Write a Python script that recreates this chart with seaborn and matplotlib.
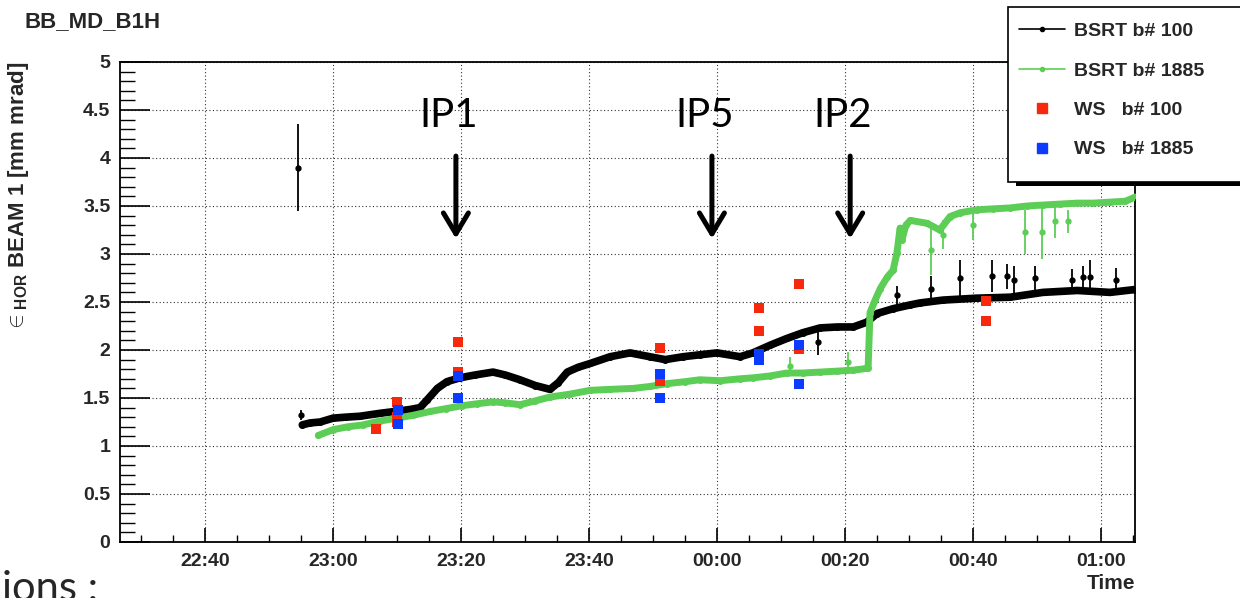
import numpy as np
import pandas as pd
import matplotlib
matplotlib.use("Agg")
import matplotlib.pyplot as plt
import matplotlib.dates as mdates
from matplotlib.lines import Line2D
from matplotlib.patches import Rectangle
import seaborn as sns

# ---------------- data (minutes after 22:00) ----------------
BASE = "2011-06-28 22:00"

bsrt100_t = [55.2, 56.4, 58.0, 60.0, 61.9, 64.2, 67.3, 69.7, 72.0, 73.6, 74.7, 76.3, 77.8,
             79.8, 82.2, 85.0, 86.9, 89.2, 91.6, 93.9, 95.2, 96.6, 98.3, 100.2, 103.3,
             106.4, 109.5, 111.9, 114.7, 117.3, 120.0, 123.6, 125.6, 128.3, 130.9, 133.4,
             136.1, 138.8, 141.3, 143.4, 145.0, 147.5, 150.2, 151.7, 155.3, 160.6, 165.8,
             170.9, 176.3, 181.4, 185.3]
bsrt100_v = [1.22, 1.24, 1.25, 1.29, 1.30, 1.31, 1.34, 1.36, 1.38, 1.40, 1.48, 1.60, 1.67,
             1.71, 1.74, 1.77, 1.74, 1.69, 1.63, 1.59, 1.66, 1.77, 1.82, 1.86, 1.93,
             1.97, 1.93, 1.90, 1.93, 1.95, 1.97, 1.93, 1.97, 2.05, 2.12, 2.18,
             2.23, 2.24, 2.24, 2.29, 2.38, 2.43, 2.47, 2.49, 2.52, 2.54, 2.55,
             2.60, 2.62, 2.60, 2.63]

bsrt1885_t = [57.7, 60.0, 62.3, 64.7, 67.3, 70.0, 72.5, 75.2, 77.7, 80.2, 82.5, 85.0, 86.9,
              89.2, 91.6, 93.9, 97.0, 100.2, 103.3, 106.9, 109.5, 112.2, 115.0, 117.3,
              120.5, 123.6, 125.6, 128.3, 130.9, 133.4, 136.1, 138.8, 141.3, 143.6,
              143.9, 144.7, 145.5, 146.6, 147.5, 148.1, 148.6, 148.9, 149.5, 150.2, 152.8,
              154.8, 156.4, 158.0, 160.6, 163.1, 165.8, 168.4, 170.9, 173.6, 176.3,
              178.8, 181.4, 183.8, 185.6]
bsrt1885_v = [1.11, 1.17, 1.20, 1.22, 1.26, 1.29, 1.32, 1.36, 1.39, 1.42, 1.44, 1.46, 1.45,
              1.43, 1.47, 1.51, 1.54, 1.58, 1.59, 1.60, 1.62, 1.65, 1.67, 1.69,
              1.68, 1.70, 1.71, 1.73, 1.76, 1.76, 1.77, 1.78, 1.79, 1.81,
              2.39, 2.52, 2.64, 2.76, 2.83, 3.01, 3.27, 3.15, 3.30, 3.35, 3.32,
              3.25, 3.39, 3.43, 3.46, 3.47, 3.48, 3.50, 3.51, 3.52, 3.53,
              3.53, 3.54, 3.55, 3.60]

# points drawn with visible error bars
err100_t = [54.5, 54.95, 135.8, 148.1, 153.4, 158.0, 162.9, 165.3, 166.4, 169.7, 175.4, 177.2, 178.2, 182.3]
err100_v = [3.90, 1.32, 2.08, 2.57, 2.64, 2.75, 2.77, 2.77, 2.73, 2.75, 2.73, 2.76, 2.76, 2.73]
err100_e = [0.45, 0.05, 0.13, 0.10, 0.13, 0.19, 0.17, 0.13, 0.14, 0.13, 0.11, 0.12, 0.18, 0.12]

err1885_t = [131.4, 140.5, 153.4, 155.3, 160.0, 168.1, 170.7, 172.8, 174.9]
err1885_v = [1.83, 1.88, 3.04, 3.20, 3.30, 3.23, 3.23, 3.34, 3.34]
err1885_e = [0.10, 0.10, 0.26, 0.15, 0.15, 0.23, 0.28, 0.17, 0.12]

ws100_t = [66.7, 70.0, 70.0, 70.0, 79.6, 79.6, 111.1, 111.1, 126.6, 126.6, 132.8, 132.8, 162.0, 162.0]
ws100_v = [1.18, 1.46, 1.30, 1.25, 2.08, 1.77, 2.02, 1.68, 2.44, 2.20, 2.69, 2.01, 2.51, 2.30]
ws1885_t = [70.2, 70.2, 79.6, 79.6, 111.1, 111.1, 126.6, 126.6, 132.8, 132.8]
ws1885_v = [1.38, 1.23, 1.73, 1.50, 1.75, 1.50, 1.96, 1.90, 2.05, 1.65]

ip_labels = ["IP1", "IP5", "IP2"]
ip_text_t = [78.1, 118.1, 139.7]
ip_arrow_t = [79.2, 119.2, 140.8]

legend_labels = ["BSRT b# 100", "BSRT b# 1885", "WS   b# 100", "WS   b# 1885"]

# ---------------- helpers ----------------
base = pd.Timestamp(BASE)
def tt(m):
    return base + pd.to_timedelta(np.asarray(m, dtype=float), unit="min")

C_BLACK = "#000000"
C_GREEN = "#5cce56"
C_RED = "#f7290c"
C_BLUE = "#0b3bff"

sns.set_theme(style="white")
plt.rcParams["font.family"] = ["Liberation Sans", "DejaVu Sans"]
plt.rcParams["font.weight"] = "bold"
plt.rcParams["mathtext.fontset"] = "custom"
plt.rcParams["mathtext.rm"] = "Liberation Sans:bold"
plt.rcParams["mathtext.it"] = "Liberation Sans:bold"
plt.rcParams["mathtext.bf"] = "Liberation Sans:bold"

fig = plt.figure(figsize=(12.4, 5.98), dpi=100)
L, R, T, B = 120, 1135, 62, 542
ax = fig.add_axes([L / 1240, 1 - B / 598, (R - L) / 1240, (B - T) / 598])

df_b = pd.DataFrame({"time": tt(bsrt100_t), "v": bsrt100_v})
df_g = pd.DataFrame({"time": tt(bsrt1885_t), "v": bsrt1885_v})
df_r = pd.DataFrame({"time": tt(ws100_t), "v": ws100_v})
df_u = pd.DataFrame({"time": tt(ws1885_t), "v": ws1885_v})

sns.lineplot(data=df_b, x="time", y="v", ax=ax, color=C_BLACK, lw=5.5, marker="o",
             markersize=5, markeredgewidth=0, estimator=None, sort=False, zorder=3)
ax.errorbar(tt(err100_t), err100_v, yerr=err100_e, fmt="o", ms=3.5, color=C_BLACK,
            elinewidth=1.3, capsize=0, zorder=3)
sns.lineplot(data=df_g, x="time", y="v", ax=ax, color=C_GREEN, lw=5.0, marker="o",
             markersize=5, markeredgewidth=0, estimator=None, sort=False, zorder=4)
ax.errorbar(tt(err1885_t), err1885_v, yerr=err1885_e, fmt="o", ms=3.5, color=C_GREEN,
            elinewidth=1.3, capsize=0, zorder=4)
sns.scatterplot(data=df_r, x="time", y="v", ax=ax, color=C_RED, marker="s", s=48,
                linewidth=0, zorder=5)
sns.scatterplot(data=df_u, x="time", y="v", ax=ax, color=C_BLUE, marker="s", s=48,
                linewidth=0, zorder=6)

# ---------------- axes styling ----------------
ax.set_xlim(tt(26.72), tt(185.3))
ax.set_ylim(0, 5)
ax.xaxis.set_major_locator(mdates.MinuteLocator(byminute=[0, 20, 40]))
ax.xaxis.set_minor_locator(mdates.MinuteLocator(byminute=list(range(0, 60, 5))))
ax.xaxis.set_major_formatter(mdates.DateFormatter("%H:%M"))
ax.yaxis.set_major_locator(matplotlib.ticker.MultipleLocator(0.5))
ax.yaxis.set_minor_locator(matplotlib.ticker.MultipleLocator(0.1))
ax.yaxis.set_major_formatter(matplotlib.ticker.FuncFormatter(lambda v, p: f"{v:g}"))

ax.grid(True, which="major", linestyle=(0, (1, 2.2)), color="#333333", lw=0.8)
for s in ax.spines.values():
    s.set_color("black")
    s.set_linewidth(1.3)
ax.tick_params(axis="y", which="major", direction="in", length=21.6, width=1.2, color="black",
               labelsize=14, pad=7, left=True, right=False)
ax.tick_params(axis="y", which="minor", direction="in", length=10.8, width=1.0, color="black",
               left=True, right=False)
ax.tick_params(axis="x", which="major", direction="in", length=10, width=1.2, color="black",
               labelsize=14, pad=8, bottom=True, top=False)
ax.tick_params(axis="x", which="minor", direction="in", length=5, width=1.0, color="black",
               bottom=True, top=False)
for lab in ax.get_xticklabels() + ax.get_yticklabels():
    lab.set_fontweight("bold")

ax.set_xlabel("Time", loc="right", fontsize=15, fontweight="bold", labelpad=3)
ax.set_ylabel(r"$\in_{\mathrm{HOR}}$ BEAM 1 [mm mrad]", loc="top", fontsize=16,
              fontweight="bold")
ax.yaxis.set_label_coords(-0.088, 1.0)

# IP annotations
for lab, tx, ta in zip(ip_labels, ip_text_t, ip_arrow_t):
    ax.text(tt(tx), 4.32, lab, ha="center", va="baseline", fontsize=29,
            family="Lato", fontweight="normal", color="black", zorder=7)
    ax.annotate("", xy=(tt(ta), 3.16), xytext=(tt(ta), 4.02),
                arrowprops=dict(arrowstyle="->,head_length=0.75,head_width=0.45",
                                lw=3.6, color="black", mutation_scale=20,
                                shrinkA=0, shrinkB=0), zorder=7)

# title
fig.text(25 / 1240, 1 - 22 / 598, "BB_MD_B1H", ha="left", va="center", fontsize=16,
         fontweight="bold")

# legend box (ROOT-like with shadow)
fig.add_artist(Rectangle((1016 / 1240, 1 - 186 / 598), 0.3, 5 / 598,
                         transform=fig.transFigure, facecolor="black", edgecolor="none",
                         zorder=8))
fig.add_artist(Rectangle((1008 / 1240, 1 - 182 / 598), 0.3, 175 / 598,
                         transform=fig.transFigure, facecolor="white", edgecolor="black",
                         lw=1.2, zorder=9))
handles = [
    Line2D([], [], color=C_BLACK, lw=1.2, marker="o", ms=3),
    Line2D([], [], color=C_GREEN, lw=1.2, marker="o", ms=3),
    Line2D([], [], color=C_RED, lw=0, marker="s", ms=7),
    Line2D([], [], color=C_BLUE, lw=0, marker="s", ms=7),
]
leg = fig.legend(handles, legend_labels, loc="upper left",
                 bbox_to_anchor=(1005 / 1240, 1 - 9 / 598), frameon=False,
                 prop={"weight": "bold", "size": 14}, handlelength=2.4,
                 handletextpad=0.45, labelspacing=1.12, borderpad=0.2)
leg.set_zorder(10)

# fragment of slide text at the bottom
fig.text(2 / 1240, -3 / 598, "ions :", ha="left", va="baseline", fontsize=30,
         family="Lato", fontweight="normal")

fig.savefig("out.png", dpi=100)
